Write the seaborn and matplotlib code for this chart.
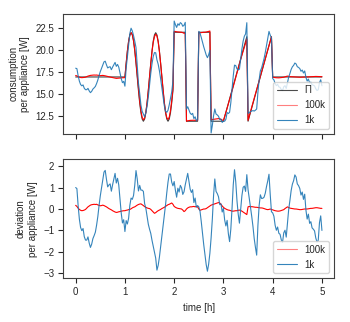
import numpy as np
import pandas as pd
import matplotlib
matplotlib.use("Agg")
import matplotlib.pyplot as plt
import seaborn as sns

# ---------------- data ----------------
time_h = np.linspace(0.0, 5.0, 201)  # 0.025 h grid

pi_sine_period = [16.90, 18.46, 19.87, 20.99, 21.70, 21.95, 21.70, 20.99, 19.87, 18.46,
                  16.90, 15.34, 13.93, 12.81, 12.10, 11.85, 12.10, 12.81, 13.93, 15.34]
pi_ramp = [11.85, 12.36, 12.87, 13.37, 13.88, 14.39, 14.90, 15.40, 15.91, 16.42,
           16.93, 17.43, 17.94, 18.45, 18.96, 19.46, 19.97, 20.48, 20.99, 21.49]
pi_values = ([16.9] * 40 + pi_sine_period * 2 +
             [22.0] * 10 + [11.85] * 10 + [22.0] * 10 + [11.85] * 10 +
             pi_ramp * 2 + [16.9] * 41)

dev_1k = [
    1.0, 0.95, 0.16, -0.47, -0.86, -1.01, -0.91, -1.29, -1.45, -1.45,
    -1.3, -1.59, -1.79, -1.64, -1.38, -1.24, -1.08, -0.75, -0.35, 0.16,
    0.61, 0.97, 1.30, 1.72, 1.80, 1.39, 1.03, 1.12, 1.17, 0.83,
    1.13, 1.40, 1.66, 1.21, 1.43, 1.12, 0.49, -0.19, -0.65, -0.50,
    -1.05, -0.54, -0.70, -0.43, 0.17, 0.51, 0.45, 0.63, 1.11, 1.79,
    1.40, 0.84, 1.10, 0.88, 0.88, 0.82, 0.25, 0.03, -0.35, -0.71,
    -0.94, -1.14, -1.46, -1.74, -2.02, -2.29, -2.85, -2.63, -2.25, -1.76,
    -1.24, -0.77, -0.32, 0.20, 0.76, 1.26, 1.63, 1.63, 1.25, 1.08,
    1.28, 0.87, 0.55, 0.97, 0.79, 1.10, 0.99, 0.68, 0.80, 1.13,
    1.39, 1.66, 1.28, 0.92, 0.77, 0.90, 0.30, 0.51, 0.08, 0.16,
    0.10, -0.11, -0.59, -1.13, -1.66, -2.13, -2.59, -2.90, -2.57, -2.06,
    -1.34, -0.46, 0.64, 1.40, 0.82, 0.72, 0.57, 0.20, 0.24, -0.14,
    0.03, -0.51, -0.79, -0.53, -1.15, -1.52, -0.94, 0.04, 1.14, 1.83,
    1.27, 0.39, -0.24, -0.66, -0.03, 0.62, 1.01, 1.07, 0.82, 1.60,
    0.90, 0.50, 0.07, -0.35, -0.82, -1.38, -1.79, -2.15, -0.77, 0.16,
    0.66, 0.49, 0.50, 0.55, 0.74, 1.05, 1.31, 1.62, 0.68, -0.13,
    -0.18, -0.34, -0.76, -0.99, -0.84, -1.13, -1.18, -1.44, -1.55, -1.11,
    -0.99, -1.31, -0.69, -0.02, 0.40, 0.86, 1.16, 1.32, 1.59, 1.49,
    1.17, 1.09, 0.96, 0.65, 0.79, 0.45, 0.69, -0.05, -0.47, -0.24,
    -0.67, -0.59, -0.88, -0.94, -1.02, -1.35, -1.54, -1.46, -0.64, -0.32,
    -1.0,
]

dev_100k = [
    0.17, 0.12, 0.04, -0.02, -0.06, -0.08, -0.07, -0.05,
    -0.02, 0.04, 0.10, 0.14, 0.18, 0.20, 0.21, 0.22,
    0.21, 0.22, 0.19, 0.17, 0.15, 0.16, 0.18, 0.16,
    0.13, 0.10, 0.06, 0.02, -0.01, -0.04, -0.08, -0.11,
    -0.14, -0.16, -0.15, -0.13, -0.12, -0.10, -0.09, -0.08,
    -0.08, -0.06, -0.05, -0.03, -0.02, 0.01, 0.05, 0.08,
    0.10, 0.14, 0.18, 0.21, 0.23, 0.24, 0.20, 0.16,
    0.11, 0.08, 0.05, 0.03, 0.02, -0.02, -0.08, -0.14,
    -0.20, -0.17, -0.12, -0.08, -0.05, -0.02, 0.02, 0.05,
    0.08, 0.12, 0.16, 0.20, 0.22, 0.25, 0.28, 0.22,
    0.12, 0.08, 0.05, 0.03, 0.02, 0.01, 0.00, -0.05,
    -0.12, -0.08, 0.00, 0.05, 0.08, 0.10, 0.10, 0.11,
    0.12, 0.10, 0.12, 0.10, 0.00, -0.06, -0.04, -0.02,
    0.00, 0.00, 0.02, 0.06, 0.10, 0.14, 0.18, 0.20,
    0.22, 0.24, 0.26, 0.28, 0.30, 0.28, 0.22, 0.14,
    0.08, 0.03, 0.00, -0.03, -0.05, -0.06, -0.08, -0.10,
    -0.10, -0.09, -0.08, -0.08, -0.06, -0.05, -0.07, -0.10,
    -0.14, -0.18, -0.22, -0.26, 0.10, 0.12, 0.10, 0.11,
    0.10, 0.09, 0.08, 0.08, 0.07, 0.06, 0.05, 0.05,
    0.04, 0.02, 0.00, -0.02, -0.03, -0.02, 0.00, -0.02,
    -0.04, -0.06, -0.08, -0.09, -0.10, -0.10, -0.09, -0.07,
    -0.05, -0.03, 0.02, 0.06, 0.10, 0.07, 0.04, 0.03,
    0.02, 0.01, 0.00, 0.00, -0.01, -0.02, -0.03, -0.03,
    -0.02, -0.01, 0.00, 0.00, 0.00, 0.01, 0.02, 0.03,
    0.03, 0.04, 0.05, 0.06, 0.06, 0.05, 0.04, 0.03,
    0.03,
]

series_labels = ["\u03a0", "100k", "1k"]

df = pd.DataFrame({
    "time": time_h,
    "pi": pi_values,
    "dev_100k": dev_100k,
    "dev_1k": dev_1k,
})
df["c_100k"] = df["pi"] + df["dev_100k"]
df["c_1k"] = df["pi"] + df["dev_1k"]

# ---------------- style ----------------
sns.set_theme(style="ticks")
plt.rcParams["font.family"] = ["Liberation Sans", "DejaVu Sans"]
plt.rcParams.update({
    "font.size": 7, "axes.labelsize": 7, "xtick.labelsize": 7,
    "ytick.labelsize": 7, "legend.fontsize": 7,
    "axes.linewidth": 0.8, "axes.edgecolor": "0.25",
    "xtick.major.width": 0.8, "ytick.major.width": 0.8,
    "xtick.major.size": 3.5, "ytick.major.size": 3.5,
    "xtick.major.pad": 3, "ytick.major.pad": 3,
})

fig = plt.figure(figsize=(3.5, 3.22), dpi=100)
ax1 = fig.add_axes([0.181, 0.584, 0.774, 0.373])
ax2 = fig.add_axes([0.181, 0.1357, 0.774, 0.3705])

lw = 0.8
blue = "#1f77b4"
sns.lineplot(data=df, x="time", y="pi", ax=ax1, color="black", alpha=0.75,
             lw=lw, label=series_labels[0], estimator=None)
sns.lineplot(data=df, x="time", y="c_100k", ax=ax1, color="red", alpha=1.0,
             lw=lw, label=series_labels[1], estimator=None)
sns.lineplot(data=df, x="time", y="c_1k", ax=ax1, color=blue, alpha=0.9,
             lw=lw, label=series_labels[2], estimator=None)

sns.lineplot(data=df, x="time", y="dev_100k", ax=ax2, color="red", alpha=1.0,
             lw=lw, label=series_labels[1], estimator=None)
sns.lineplot(data=df, x="time", y="dev_1k", ax=ax2, color=blue, alpha=0.9,
             lw=lw, label=series_labels[2], estimator=None)

for ax in (ax1, ax2):
    ax.set_xlim(-0.25, 5.25)
    ax.set_xticks([0, 1, 2, 3, 4, 5])
    leg = ax.legend(loc="lower right", frameon=True, edgecolor="0.8", fancybox=True)
    for h in leg.get_lines():
        if h.get_label() == "100k" or h.get_color() == "red":
            h.set_alpha(0.5)
        elif h.get_color() == "black":
            h.set_alpha(0.7)

ax1.set_ylim(10.4, 24.1)
ax1.set_yticks([12.5, 15.0, 17.5, 20.0, 22.5])
ax1.set_yticklabels(["12.5", "15.0", "17.5", "20.0", "22.5"])
ax1.tick_params(labelbottom=False)
ax1.set_xlabel("")
ax1.set_ylabel("consumption\nper appliance [W]")

ax2.set_ylim(-3.23, 2.33)
ax2.set_yticks([-3, -2, -1, 0, 1, 2])
ax2.set_xlabel("time [h]")
ax2.set_ylabel("deviation\nper appliance [W]")

fig.savefig("out.png", dpi=100)
